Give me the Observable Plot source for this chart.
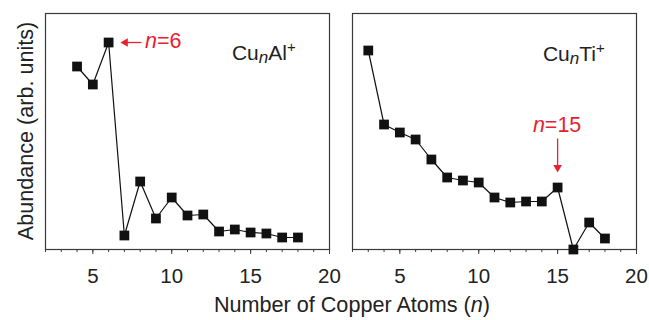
<!DOCTYPE html>
<html>
<head>
<meta charset="utf-8">
<script src="https://cdn.jsdelivr.net/npm/d3@7"></script>
<script src="https://cdn.jsdelivr.net/npm/@observablehq/plot@0.6"></script>
<style>
  body { margin: 0; background: #fff; font-family: "Liberation Sans", Arial, sans-serif; }
  #wrap { position: relative; width: 649px; height: 320px; overflow: hidden; background: #fff; }
  #wrap svg { position: absolute; top: 0; overflow: visible; }
  .xlabel { position: absolute; left: 152px; width: 400px; top: 294px; text-align: center;
            font-size: 21.6px; line-height: 22px; color: #222; white-space: nowrap; }
</style>
</head>
<body>
<div id="wrap"></div>
<script>
// ---- data ----
const alN = [4, 5, 6, 7, 8, 9, 10, 11, 12, 13, 14, 15, 16, 17, 18];
const alAbundance = [183, 165, 207, 14, 68, 31, 52, 34, 35, 18, 20, 17, 16, 12, 12];
const tiN = [3, 4, 5, 6, 7, 8, 9, 10, 11, 12, 13, 14, 15, 16, 17, 18];
const tiAbundance = [199, 125, 117, 110, 90, 72, 69, 67, 52, 47, 48, 48, 62, 0, 27, 11];
const majorTicks = [5, 10, 15, 20];
const minorTicks = [2, 3, 4, 5, 6, 7, 8, 9, 10, 11, 12, 13, 14, 15, 16, 17, 18, 19, 20];
const xDomain = [2, 20];
const yDomain = [0, 236];

// annotation anchors (data units)
const alArrow = {x1: 8.08, x2: 7.06, y: 207};
const alArrowLabel = {x: 8.34, y: 201};
const alTitle = {x: 13.85, y: 189};
const tiArrow = {x: 15, y1: 111, y2: 82};
const tiArrowLabel = {x: 15, y: 117};
const tiTitle = {x: 14.1, y: 188};

const RED = "#e8212e";
const INK = "#222";
const FONT = "Liberation Sans, Arial, sans-serif";

function richText(svg, x, y, parts, {fill = INK, size = 21, anchor = "start"} = {}) {
  const t = d3.select(svg).append("text")
    .attr("x", x).attr("y", y)
    .attr("fill", fill).attr("font-size", size)
    .attr("font-family", FONT).attr("text-anchor", anchor);
  parts.forEach(p => {
    const s = t.append("tspan").text(p.text);
    if (p.italic) s.attr("font-style", "italic");
    if (p.size) s.attr("font-size", p.size);
    if (p.dy) s.attr("dy", p.dy);
  });
  return t;
}

function panel({n, v, width, marginLeft, marginRight, extra}) {
  const data = n.map((x, i) => ({n: x, v: v[i]}));
  return Plot.plot({
    width, height: 290,
    marginTop: 13, marginBottom: 41, marginLeft, marginRight,
    style: {background: "transparent", overflow: "visible", fontFamily: FONT, color: INK},
    x: {domain: xDomain, label: null},
    y: {domain: yDomain, axis: null, label: null},
    marks: [
      Plot.frame({stroke: "#3a3a3a", strokeWidth: 1.2}),
      Plot.axisX({ticks: minorTicks, tickSize: 3, tickFormat: () => "", stroke: "#3a3a3a", label: null}),
      Plot.axisX({ticks: majorTicks, tickSize: 5, tickPadding: 14, fontSize: 20.5, stroke: "#3a3a3a", fill: INK, label: null}),
      Plot.line(data, {x: "n", y: "v", stroke: "#111", strokeWidth: 1.2}),
      Plot.dot(data, {x: "n", y: "v", symbol: "square", r: 5.5, fill: "#111", stroke: null}),
      ...extra
    ]
  });
}

const wrap = document.getElementById("wrap");

// Left: CunAl+
const left = panel({
  n: alN, v: alAbundance, width: 345, marginLeft: 45, marginRight: 16,
  extra: [
    Plot.link([alArrow], {x1: "x1", x2: "x2", y1: "y", y2: "y", stroke: RED, strokeWidth: 1.3}),
    Plot.dot([alArrow], {x: "x2", y: "y", symbol: "triangle", r: 3.2, rotate: -90, fill: RED, stroke: null})
  ]
});
left.style.left = "0px";
wrap.appendChild(left);
{
  const sx = left.scale("x"), sy = left.scale("y");
  richText(left, sx.apply(alArrowLabel.x), sy.apply(alArrowLabel.y),
    [{text: "n", italic: true}, {text: "=6"}], {fill: RED, size: 21.5});
  richText(left, sx.apply(alTitle.x), sy.apply(alTitle.y),
    [{text: "Cu"}, {text: "n", italic: true, size: 17, dy: 2.5}, {text: "Al", size: 21, dy: -2.5}, {text: "+", size: 15, dy: -8}]);
  d3.select(left).append("text")
    .attr("transform", "translate(33,131) rotate(-90)")
    .attr("text-anchor", "middle").attr("font-size", 21.6).attr("font-family", FONT).attr("fill", INK)
    .text("Abundance (arb. units)");
}

// Right: CunTi+
const right = panel({
  n: tiN, v: tiAbundance, width: 314, marginLeft: 17, marginRight: 13,
  extra: [
    Plot.link([tiArrow], {x1: "x", x2: "x", y1: "y1", y2: "y2", stroke: RED, strokeWidth: 1.3}),
    Plot.dot([tiArrow], {x: "x", y: "y2", symbol: "triangle", r: 3.2, rotate: 180, fill: RED, stroke: null})
  ]
});
right.style.left = "335px";
wrap.appendChild(right);
{
  const sx = right.scale("x"), sy = right.scale("y");
  richText(right, sx.apply(tiArrowLabel.x), sy.apply(tiArrowLabel.y),
    [{text: "n", italic: true}, {text: "=15"}], {fill: RED, size: 21.5, anchor: "middle"});
  richText(right, sx.apply(tiTitle.x), sy.apply(tiTitle.y),
    [{text: "Cu"}, {text: "n", italic: true, size: 17, dy: 2.5}, {text: "Ti", size: 21, dy: -2.5}, {text: "+", size: 15, dy: -8}]);
}

const xl = document.createElement("div");
xl.className = "xlabel";
xl.innerHTML = "Number of Copper Atoms (<i>n</i>)";
wrap.appendChild(xl);
</script>
</body>
</html>
